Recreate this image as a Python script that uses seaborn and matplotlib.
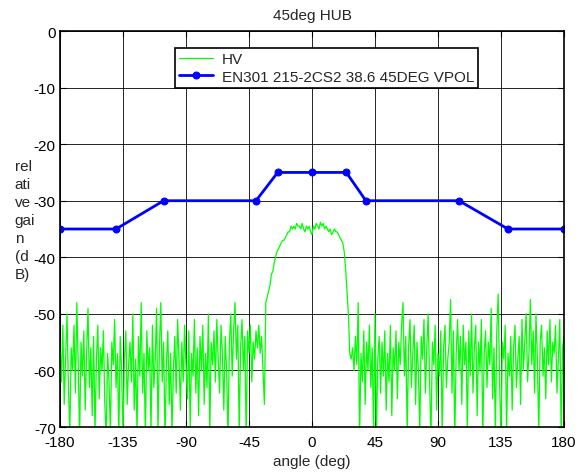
import numpy as np
import pandas as pd
import matplotlib
matplotlib.use('Agg')
import matplotlib.pyplot as plt
import seaborn as sns

# HV measured pattern, one sample per degree (-180 .. 180)
hv_left = [  # -180 .. -34
    -55, -62, -52, -66, -58, -50, -63, -71, -56, -60,
    -52, -64, -48, -59, -72, -55, -61, -53, -67, -57,
    -49, -63, -56, -68, -54, -71, -58, -52, -65, -56,
    -60, -53, -66, -72, -57, -62, -71, -55, -59, -51,
    -63, -57, -72, -54, -60, -71, -58, -53, -66, -59,
    -55, -62, -50, -67, -58, -71, -54, -61, -48, -64,
    -57, -72, -53, -60, -56, -71, -52, -63, -58, -49,
    -71, -56, -48, -62, -55, -72, -59, -53, -66, -57,
    -71, -60, -54, -64, -51, -58, -67, -55, -62, -52,
    -59, -65, -53, -70, -57, -61, -51, -64, -56, -68,
    -54, -60, -52, -66, -57, -63, -50, -71, -55, -59,
    -53, -62, -51, -58, -64, -52, -57, -67, -54, -60,
    -72, -55, -50, -61, -53, -48, -58, -52, -71, -56,
    -51, -60, -54, -72, -53, -57, -52, -62, -55, -58,
    -53, -56, -52, -57, -54, -60, -66,
]
hv_lobe = [  # -33 .. 27
    -48, -47, -46, -45, -43, -42.5, -41, -40, -39, -38.5,
    -38, -37.5, -37, -37, -36.5, -36, -35.5, -35.5, -34.5, -35,
    -34.5, -35, -34, -34.5, -34.5, -35, -34, -35, -35.5, -34.5,
    -35, -34.5, -35.5, -36, -34.5, -35, -34, -34.5, -35, -33.8,
    -34.5, -34, -35, -34.5, -35, -35.5, -35, -36, -35.5, -35,
    -35.5, -35.5, -36, -36.5, -37, -37.5, -39, -42, -46, -50,
    -57,
]
hv_right = [  # 28 .. 180
    -58, -56, -60, -54, -59, -48, -72, -57, -62, -53,
    -66, -55, -60, -52, -63, -56, -71, -50, -72, -58,
    -54, -64, -55, -61, -53, -67, -57, -62, -52, -68,
    -56, -60, -53, -65, -55, -59, -52, -48, -61, -54,
    -71, -56, -51, -63, -57, -52, -66, -55, -60, -71,
    -54, -58, -51, -64, -56, -50, -62, -72, -55, -59,
    -52, -67, -57, -61, -53, -71, -56, -52, -63, -58,
    -55, -47.5, -64, -53, -72, -57, -51, -60, -54, -66,
    -52, -59, -55, -71, -53, -61, -50, -64, -56, -52,
    -68, -55, -60, -51, -72, -57, -53, -63, -55, -59,
    -49, -65, -56, -71, -53, -46.5, -62, -72, -55, -58,
    -52, -71, -57, -61, -54, -67, -56, -52, -63, -58,
    -54, -66, -51, -60, -55, -50, -62, -57, -47.5, -59,
    -53, -64, -50, -58, -71, -55, -52, -61, -56, -65,
    -53, -59, -51, -62, -55, -57, -52, -64, -58, -51,
    -72, -56, -54,
]
hv_angle = np.arange(-180, 181)
hv_gain = hv_left + hv_lobe + hv_right

# EN301 215-2 CS2 mask
mask_angle = [-180, -140, -106, -40, -24.5, 0, 24.5, 38.5, 105, 140, 180]
mask_gain = [-35, -35, -30, -30, -25, -25, -25, -30, -30, -35, -35]

x_ticks = [-180, -135, -90, -45, 0, 45, 90, 135, 180]
y_ticks = [-70, -60, -50, -40, -30, -20, -10, 0]

sns.set_style('white')
plt.rcParams['font.family'] = ['Liberation Sans', 'DejaVu Sans']
plt.rcParams['font.size'] = 11
plt.rcParams['axes.unicode_minus'] = False

fig = plt.figure(figsize=(5.81, 4.77), dpi=100)
ax = fig.add_axes([0.1033, 0.1027, 0.8674, 0.8302])

hv_df = pd.DataFrame({'angle': hv_angle, 'gain': hv_gain})
mask_df = pd.DataFrame({'angle': mask_angle, 'gain': mask_gain})

sns.lineplot(data=hv_df, x='angle', y='gain', color='#00ff00', linewidth=0.9,
             sort=False, label='HV', ax=ax)
sns.lineplot(data=mask_df, x='angle', y='gain', color='#0000ff', linewidth=2,
             marker='o', markersize=5, markeredgecolor='#0000ff', sort=False,
             label='EN301 215-2CS2 38.6 45DEG VPOL', ax=ax)

ax.set_xlim(-180, 180)
ax.set_ylim(-70, 0)
ax.set_xticks(x_ticks)
ax.set_yticks(y_ticks)
ax.grid(True, color='black', linewidth=0.6)
ax.set_axisbelow(True)
ax.tick_params(direction='in', length=4, width=0.8, labelsize=11, colors='black',
               top=True, right=True, bottom=True, left=True)
ax.tick_params(axis='x', pad=6)
ax.tick_params(axis='y', pad=3)
for s in ax.spines.values():
    s.set_color('black')
    s.set_linewidth(1.2)

ax.set_title('45deg HUB', fontsize=11, pad=9)
ax.set_xlabel('angle (deg)', fontsize=11, labelpad=3)
ax.set_ylabel('rel\nati\nve\ngai\nn\n(d\nB)', rotation=0, ha='left', va='center',
              fontsize=11, linespacing=1.37)
ax.yaxis.set_label_coords(-0.09, 0.523)

leg = ax.legend(loc='upper center', bbox_to_anchor=(0.529, 0.976), fontsize=11,
                frameon=True, fancybox=False, edgecolor='black', framealpha=1,
                handlelength=2.2, handletextpad=0.6, borderpad=0.25,
                labelspacing=0.25)
leg.get_frame().set_linewidth(1.2)

fig.savefig('out.png', dpi=100)
